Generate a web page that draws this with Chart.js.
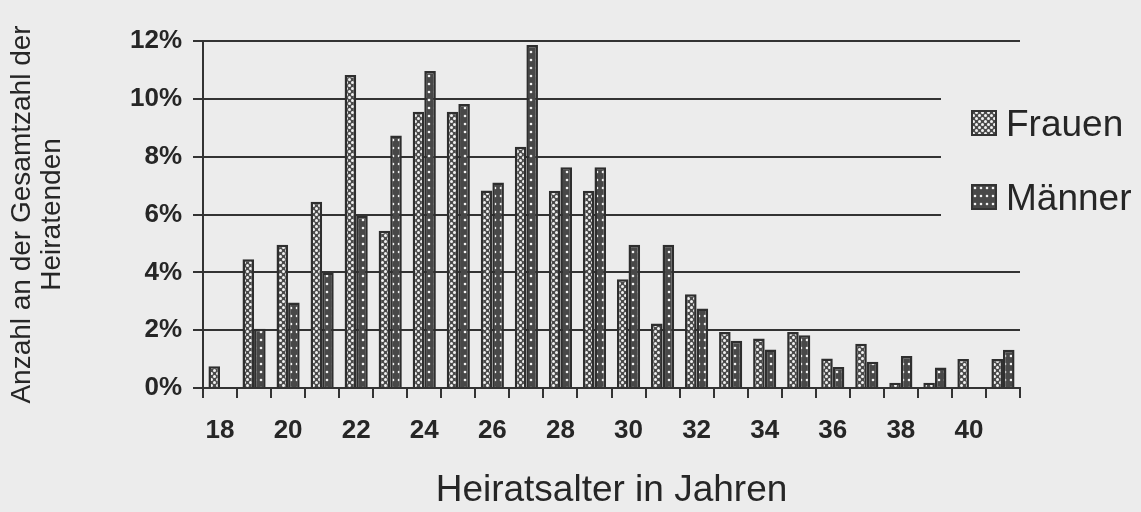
<!DOCTYPE html>
<html>
<head>
<meta charset="utf-8">
<script src="https://cdn.jsdelivr.net/npm/chart.js@4.4.1/dist/chart.umd.min.js"></script>
<style>
  html, body { margin: 0; padding: 0; background: #ececec; }
  #wrap { width: 1141px; height: 512px; }
</style>
</head>
<body>
<div id="wrap"><canvas id="heiratChart" width="1141" height="512"></canvas></div>
<script>
/* Data */
const ages = [18, 19, 20, 21, 22, 23, 24, 25, 26, 27, 28, 29, 30, 31, 32, 33, 34, 35, 36, 37, 38, 39, 40, 41];
const frauen = [0.75, 4.45, 4.95, 6.44, 10.82, 5.44, 9.55, 9.55, 6.83, 8.34, 6.82, 6.82, 3.76, 2.23, 3.24, 1.94, 1.71, 1.94, 1.02, 1.53, 0.18, 0.18, 1.0, 1.0];
const maenner = [null, 2.05, 2.96, 3.99, 5.95, 8.73, 10.96, 9.82, 7.11, 11.86, 7.63, 7.63, 4.95, 4.95, 2.75, 1.63, 1.33, 1.82, 0.73, 0.91, 1.11, 0.71, null, 1.32];

const FONT = "'Liberation Sans', Arial, sans-serif";
const INK = '#262626';
const PAPER = '#ececec';

/* Fill patterns like the printed hatching */
function makePattern(bg, w, h, dots, r) {
    const c = document.createElement('canvas');
    c.width = w;
    c.height = h;
    const g = c.getContext('2d');
    g.fillStyle = bg;
    g.fillRect(0, 0, w, h);
    g.fillStyle = '#f2f2f2';
    dots.forEach(d => {
        g.beginPath();
        g.arc(d[0], d[1], r, 0, Math.PI * 2);
        g.fill();
    });
    return g.createPattern(c, 'repeat');
}

const frauenFill = makePattern('#4a4a4a', 6, 6, [[1.5, 1.5], [4.5, 4.5]], 1.5);
const maennerFill = makePattern('#484848', 6, 8, [[3, 4]], 1.3);

/* Legend drawn over the right end of the grid */
const sideLegend = {
    id: 'sideLegend',
    afterDraw(chart) {
        const ctx = chart.ctx;
        ctx.save();
        ctx.fillStyle = PAPER;
        ctx.fillRect(941, 58, 200, 180);
        chart.data.datasets.forEach((ds, i) => {
            const y = 110 + i * 74;
            ctx.fillStyle = ds.backgroundColor;
            ctx.fillRect(971, y, 26, 26);
            ctx.strokeStyle = '#333';
            ctx.lineWidth = 2;
            ctx.strokeRect(972, y + 1, 24, 24);
            ctx.fillStyle = INK;
            ctx.font = '37px ' + FONT;
            ctx.textBaseline = 'alphabetic';
            ctx.fillText(ds.label, 1006, y + 26);
        });
        ctx.restore();
    }
};

Chart.defaults.font.family = FONT;
Chart.defaults.color = INK;

/* Create chart */
const my_chart = new Chart('heiratChart', {
    type: 'bar',
    data: {
        labels: ages,
        datasets: [
            {
                label: 'Frauen',
                data: frauen,
                backgroundColor: frauenFill,
                borderColor: '#2e2e2e',
                borderWidth: 2.5,
            },
            {
                label: 'Männer',
                data: maenner,
                backgroundColor: maennerFill,
                borderColor: '#2e2e2e',
                borderWidth: 2.5,
            },
        ]
    },
    options: {
        responsive: false,
        animation: false,
        layout: {
            padding: { left: 0, right: 121, top: 41, bottom: 0 }
        },
        datasets: {
            bar: {
                categoryPercentage: 0.68,
                barPercentage: 1.0,
            }
        },
        scales: {
            x: {
                afterFit: (scale) => { scale.height = 124; },
                grid: {
                    offset: true,
                    drawOnChartArea: false,
                    drawTicks: true,
                    tickLength: 10,
                    color: '#333',
                    lineWidth: 2,
                },
                border: { display: true, color: '#333', width: 2 },
                ticks: {
                    autoSkip: false,
                    maxRotation: 0,
                    padding: 17,
                    font: { size: 26, weight: 'bold' },
                    callback: function (value, index) {
                        return ages[index] % 2 === 0 ? String(ages[index]) : '';
                    }
                },
                title: {
                    display: true,
                    text: 'Heiratsalter in Jahren',
                    font: { size: 37, lineHeight: 1 },
                    padding: { top: 0, bottom: 3 },
                }
            },
            y: {
                min: 0,
                max: 12,
                afterFit: (scale) => { scale.width = 203; },
                grid: {
                    drawTicks: true,
                    tickLength: 10,
                    color: '#333',
                    lineWidth: 2,
                },
                border: { display: true, color: '#333', width: 2 },
                ticks: {
                    stepSize: 2,
                    padding: 11,
                    font: { size: 26, weight: 'bold' },
                    callback: (v) => v + '%'
                },
                title: {
                    display: true,
                    text: ['Anzahl an der Gesamtzahl der', 'Heiratenden'],
                    font: { size: 28, lineHeight: 1.07 },
                    padding: { top: 7, bottom: 0 },
                }
            }
        },
        plugins: {
            legend: { display: false },
            tooltip: { enabled: false },
        }
    },
    plugins: [sideLegend]
});
</script>
</body>
</html>
